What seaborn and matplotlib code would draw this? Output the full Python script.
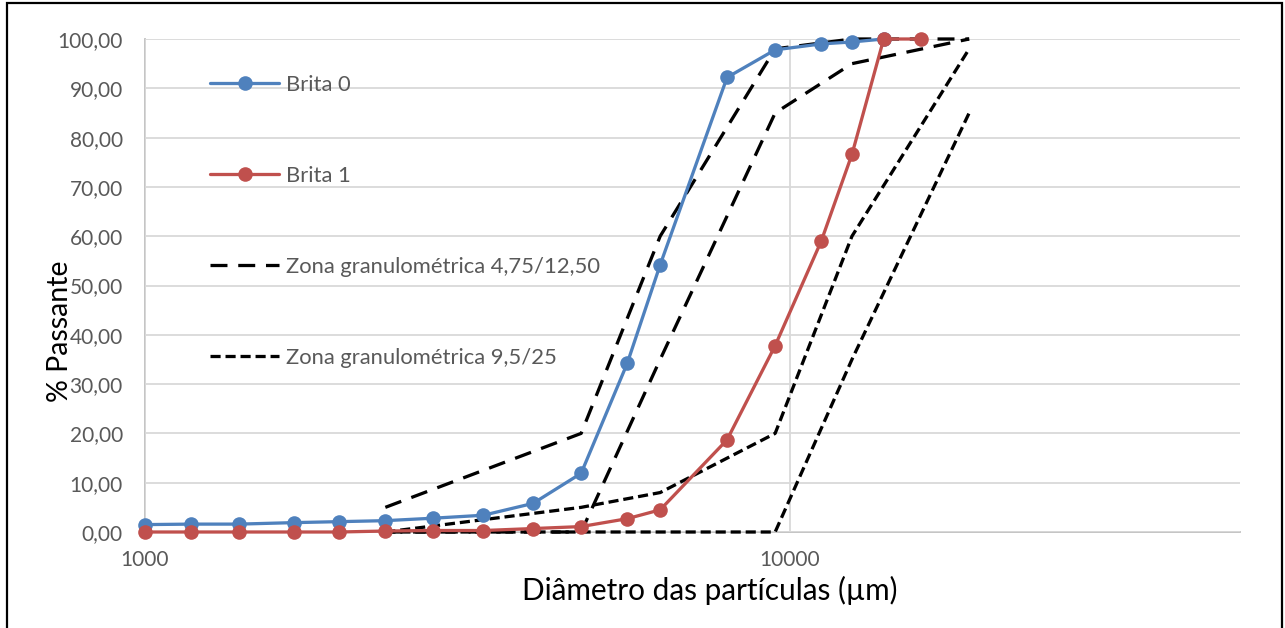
import matplotlib
matplotlib.use("Agg")
import matplotlib.pyplot as plt
import numpy as np
import pandas as pd
import seaborn as sns
from matplotlib.patches import Rectangle
from matplotlib.ticker import FixedLocator, NullLocator, FuncFormatter

# Sieve openings (µm) and cumulative % passing
sieves_brita0 = [1000, 1180, 1400, 1700, 2000, 2360, 2800, 3350, 4000, 4750,
                 5600, 6300, 8000, 9500, 11200, 12500, 14000]
brita0 = [1.5, 1.6, 1.6, 1.9, 2.1, 2.3, 2.8, 3.4, 5.8, 11.9,
          34.2, 54.2, 92.2, 97.8, 99.0, 99.4, 100.0]

sieves_brita1 = [1000, 1180, 1400, 1700, 2000, 2360, 2800, 3350, 4000, 4750,
                 5600, 6300, 8000, 9500, 11200, 12500, 14000, 16000]
brita1 = [0.0, 0.0, 0.0, 0.0, 0.0, 0.2, 0.3, 0.3, 0.7, 1.1,
          2.7, 4.5, 18.7, 37.8, 59.0, 76.6, 100.0, 100.0]

# NBR 7211 grading envelopes
zone_sieves = [2360, 4750, 6300, 9500, 12500, 19000]
zone_a_upper = [5, 20, 60, 98, 100, 100]
zone_a_lower = [0, 0, 35, 85, 95, 100]
zone_b_upper = [0, 5, 8, 20, 60, 98]
zone_b_lower = [0, 0, 0, 0, 35, 85]

labels = ["Brita 0", "Brita 1",
          "Zona granulométrica 4,75/12,50", "Zona granulométrica 9,5/25"]
x_ticks = [1000, 10000]
y_ticks = list(range(0, 101, 10))

sns.set_theme(style="white")
plt.rcParams["font.family"] = ["Lato", "DejaVu Sans"]

W, H = 1285, 628
fig = plt.figure(figsize=(W / 100, H / 100), dpi=100)
ax = fig.add_axes([145 / W, 1 - 532 / H, (1240 - 145) / W, (532 - 39) / H])
ax.set_xscale("log")

blue = "#4F81BD"
red = "#C0504D"
long_dash = (0, (5.2, 3.3))
short_dash = (0, (3.1, 1.5))

zone_frames = {
    "a_up": pd.DataFrame({"d": zone_sieves, "p": zone_a_upper}),
    "a_lo": pd.DataFrame({"d": zone_sieves, "p": zone_a_lower}),
    "b_up": pd.DataFrame({"d": zone_sieves, "p": zone_b_upper}),
    "b_lo": pd.DataFrame({"d": zone_sieves, "p": zone_b_lower}),
}
line_kw = dict(estimator=None, sort=False, ax=ax, linewidth=2.35, clip_on=False)

sns.lineplot(data=zone_frames["a_up"], x="d", y="p", color="black",
             linestyle=long_dash, label=labels[2], **line_kw)
sns.lineplot(data=zone_frames["a_lo"], x="d", y="p", color="black",
             linestyle=long_dash, label="_nolegend_", **line_kw)
sns.lineplot(data=zone_frames["b_up"], x="d", y="p", color="black",
             linestyle=short_dash, label=labels[3], **line_kw)
sns.lineplot(data=zone_frames["b_lo"], x="d", y="p", color="black",
             linestyle=short_dash, label="_nolegend_", **line_kw)

df0 = pd.DataFrame({"d": sieves_brita0, "p": brita0})
df1 = pd.DataFrame({"d": sieves_brita1, "p": brita1})
sns.lineplot(data=df0, x="d", y="p", color=blue, marker="o", markersize=10.5,
             markeredgewidth=0, label=labels[0], **line_kw)
sns.lineplot(data=df1, x="d", y="p", color=red, marker="o", markersize=10.5,
             markeredgewidth=0, label=labels[1], **line_kw)

ax.set_xlim(1000, 50000)
ax.set_ylim(0, 100)
ax.xaxis.set_major_locator(FixedLocator(x_ticks))
ax.xaxis.set_minor_locator(NullLocator())
ax.xaxis.set_major_formatter(FuncFormatter(lambda v, _: f"{v:.0f}"))
ax.yaxis.set_major_locator(FixedLocator(y_ticks))
ax.yaxis.set_major_formatter(FuncFormatter(lambda v, _: f"{v:.2f}".replace(".", ",")))

ax.grid(True, which="major", color="#D9D9D9", linewidth=1.3)
ax.set_axisbelow(True)
for side in ("top", "right"):
    ax.spines[side].set_visible(False)
for side in ("left", "bottom"):
    ax.spines[side].set_color("#BFBFBF")
    ax.spines[side].set_linewidth(1.3)
    ax.spines[side].set_zorder(0.5)

ax.tick_params(axis="both", length=0, labelsize=15, labelcolor="#595959")
ax.tick_params(axis="y", pad=16)
ax.tick_params(axis="x", pad=13)

ax.set_xlabel("Diâmetro das partículas (µm)", fontsize=21.4, color="black")
ax.xaxis.set_label_coords((710 - 145) / 1095, (532 - 590) / 493)
ax.xaxis.label.set_va("center")
ax.set_ylabel("% Passante", fontsize=20.5, color="black")
ax.yaxis.set_label_coords((60 - 145) / 1095, (532 - 331) / 493)
ax.yaxis.label.set_va("center")

handles, labs = ax.get_legend_handles_labels()
order = [labs.index(l) for l in labels]
ax.legend([handles[i] for i in order], [labs[i] for i in order],
          loc="upper left", bbox_to_anchor=(210 / W, 1 - 75 / H),
          bbox_transform=fig.transFigure, frameon=False,
          fontsize=15.8, labelcolor="#595959", handlelength=3.15,
          handletextpad=0.32, labelspacing=3.23, borderpad=0, borderaxespad=0)

fig.patches.append(Rectangle((7 / W, -0.05), (1282 - 7) / W, 1.05 - 3 / H,
                             transform=fig.transFigure, fill=False,
                             edgecolor="black", linewidth=1.6))

fig.savefig("out.png", dpi=100)
